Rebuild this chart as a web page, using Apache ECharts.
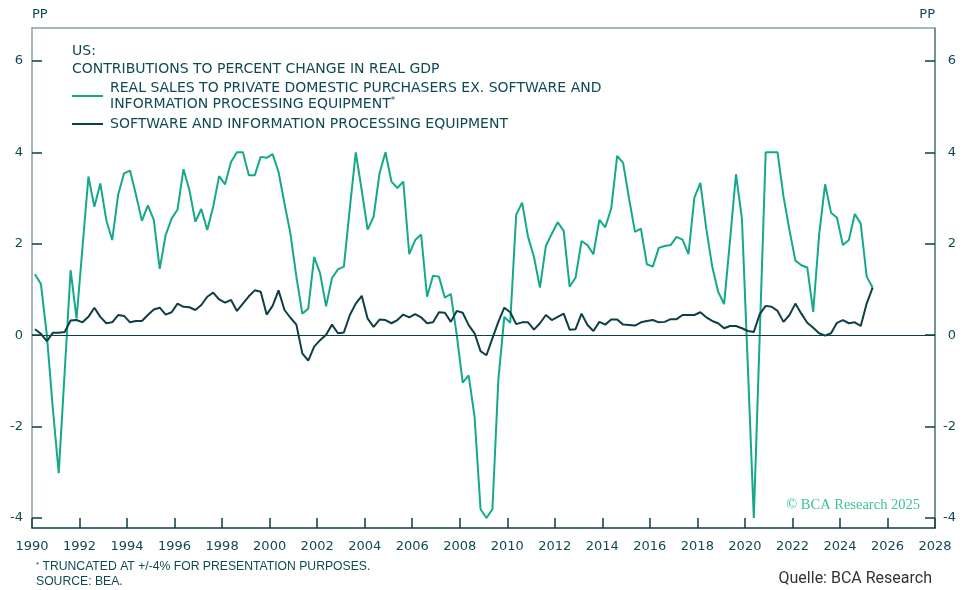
<!DOCTYPE html>
<html>
<head>
<meta charset="utf-8">
<script src="https://cdn.jsdelivr.net/npm/echarts@6/dist/echarts.min.js"></script>
<style>
  html, body { margin: 0; padding: 0; background: #fff; }
  #chart { width: 968px; height: 590px; }
</style>
</head>
<body>
<div id="chart"></div>
<script>
// quarterly contributions, 1990Q1 .. 2025Q2 (pp)
const startYear = 1990
const salesName = 'REAL SALES TO PRIVATE DOMESTIC PURCHASERS EX. SOFTWARE AND\nINFORMATION PROCESSING EQUIPMENT*'
const softName = 'SOFTWARE AND INFORMATION PROCESSING EQUIPMENT'

const salesExSoftware = [
  1.33, 1.12, 0.0, -1.6, -3.02, -0.8, 1.42, 0.36, 1.92, 3.47, 2.81, 3.32,
  2.52, 2.08, 3.07, 3.54, 3.60, 3.07, 2.50, 2.84, 2.52, 1.45, 2.19, 2.55,
  2.75, 3.63, 3.17, 2.48, 2.76, 2.30, 2.81, 3.48, 3.30, 3.79, 4.0, 4.0,
  3.50, 3.50, 3.90, 3.88, 3.96, 3.57, 2.88, 2.22, 1.28, 0.47, 0.58, 1.71,
  1.35, 0.63, 1.25, 1.44, 1.50, 2.78, 4.0, 3.17, 2.31, 2.59, 3.54, 4.0,
  3.36, 3.22, 3.36, 1.77, 2.08, 2.20, 0.84, 1.30, 1.28, 0.82, 0.90, 0.0,
  -1.04, -0.88, -1.79, -3.81, -4.0, -3.81, -0.98, 0.40, 0.27, 2.63, 2.90, 2.15,
  1.71, 1.04, 1.95, 2.22, 2.47, 2.28, 1.06, 1.26, 2.06, 1.97, 1.77, 2.52,
  2.36, 2.77, 3.92, 3.77, 2.99, 2.26, 2.33, 1.55, 1.50, 1.91, 1.95, 1.97,
  2.15, 2.09, 1.77, 3.01, 3.33, 2.33, 1.50, 0.95, 0.68, 2.08, 3.52, 2.55,
  -0.7, -4.0, 0.0, 4.0, 4.0, 4.0, 3.03, 2.30, 1.63, 1.53, 1.48, 0.51,
  2.2, 3.30, 2.68, 2.57, 1.97, 2.08, 2.65, 2.44, 1.28, 1.04
]
const softwareEquip = [
  0.13, 0.03, -0.13, 0.05, 0.05, 0.07, 0.32, 0.33, 0.28, 0.40, 0.60, 0.40,
  0.26, 0.28, 0.44, 0.42, 0.28, 0.31, 0.31, 0.44, 0.56, 0.60, 0.45, 0.50,
  0.69, 0.62, 0.61, 0.55, 0.66, 0.84, 0.93, 0.78, 0.71, 0.77, 0.53, 0.69,
  0.85, 0.98, 0.95, 0.45, 0.64, 0.98, 0.55, 0.38, 0.23, -0.40, -0.56, -0.25,
  -0.11, 0.01, 0.23, 0.04, 0.06, 0.44, 0.69, 0.86, 0.36, 0.18, 0.34, 0.33,
  0.26, 0.33, 0.45, 0.39, 0.46, 0.39, 0.26, 0.28, 0.50, 0.49, 0.29, 0.53,
  0.49, 0.22, 0.04, -0.35, -0.44, -0.07, 0.29, 0.60, 0.50, 0.24, 0.28, 0.28,
  0.12, 0.26, 0.44, 0.33, 0.40, 0.47, 0.12, 0.13, 0.47, 0.22, 0.09, 0.29,
  0.23, 0.34, 0.34, 0.23, 0.22, 0.21, 0.28, 0.31, 0.33, 0.28, 0.29, 0.35,
  0.35, 0.44, 0.44, 0.44, 0.50, 0.39, 0.31, 0.26, 0.15, 0.20, 0.20, 0.15,
  0.09, 0.07, 0.46, 0.64, 0.62, 0.53, 0.29, 0.44, 0.69, 0.47, 0.27, 0.16,
  0.04, -0.01, 0.04, 0.27, 0.33, 0.26, 0.28, 0.20, 0.69, 1.04
]
const yTicks = [-4, -2, 0, 2, 4, 6]

const GREEN = '#14a98a'
const DARK = '#0d3f46'
const TXT = '#0f4a52'
const FONT = 'DejaVu Sans'

// each quarter sits at its mid point on the year axis
const toPoints = arr => arr.map((v, i) => [startYear + i / 4 + 0.125, v])

const chart = echarts.init(document.getElementById('chart'))

const yAxisBase = {
  type: 'value',
  min: -4.22,
  max: 6.72,
  splitLine: { show: false },
  axisTick: { show: true, inside: true, length: 10, customValues: yTicks, lineStyle: { color: DARK, width: 1.5 } },
  axisLabel: { customValues: yTicks, color: TXT, fontFamily: FONT, fontSize: 13 },
  name: 'PP',
  nameLocation: 'end',
  nameGap: 13,
  nameTextStyle: { color: TXT, fontFamily: FONT, fontSize: 13, verticalAlign: 'middle' }
}

chart.setOption({
  animation: false,
  grid: { left: 32, right: 33, top: 28, bottom: 62, containLabel: false },
  title: {
    text: 'US:\nCONTRIBUTIONS TO PERCENT CHANGE IN REAL GDP',
    left: 72,
    top: 42,
    padding: 0,
    textStyle: { color: TXT, fontFamily: FONT, fontSize: 14, fontWeight: 'normal', lineHeight: 18 }
  },
  legend: {
    orient: 'vertical',
    left: 72,
    top: 80,
    padding: 0,
    itemWidth: 31,
    itemHeight: 2,
    itemGap: 4,
    icon: 'rect',
    selectedMode: false,
    data: [salesName, softName],
    formatter: name => name.replace('*', '{sup|*}'),
    textStyle: {
      color: TXT, fontFamily: FONT, fontSize: 14, lineHeight: 16, padding: [0, 0, 0, 2],
      rich: { sup: { fontSize: 9, color: TXT, fontFamily: FONT, padding: [0, 0, 6, 0] } }
    }
  },
  xAxis: [
    {
      type: 'value',
      min: 1990,
      max: 2028,
      interval: 2,
      splitLine: { show: false },
      axisLine: { onZero: false, lineStyle: { color: DARK, width: 1.5 } },
      axisTick: { inside: true, length: 10, lineStyle: { color: DARK, width: 1.5 } },
      axisLabel: { color: TXT, fontFamily: FONT, fontSize: 13, margin: 12, formatter: v => String(v) }
    },
    {
      type: 'value',
      position: 'top',
      min: 1990,
      max: 2028,
      axisLine: { show: true, onZero: false, lineStyle: { color: '#86a3a8', width: 1.5 } },
      axisTick: { show: false },
      axisLabel: { show: false },
      splitLine: { show: false }
    }
  ],
  yAxis: [
    Object.assign({}, yAxisBase, {
      position: 'left',
      axisLine: { show: true, onZero: false, lineStyle: { color: '#86a3a8', width: 1.5 } },
      axisLabel: Object.assign({}, yAxisBase.axisLabel, { margin: 9 }),
      nameTextStyle: Object.assign({}, yAxisBase.nameTextStyle, { align: 'left' })
    }),
    Object.assign({}, yAxisBase, {
      position: 'right',
      axisLine: { show: true, onZero: false, lineStyle: { color: '#4b6f75', width: 1.5 } },
      axisLabel: Object.assign({}, yAxisBase.axisLabel, { margin: 21, align: 'right' }),
      nameTextStyle: Object.assign({}, yAxisBase.nameTextStyle, { align: 'right' })
    })
  ],
  series: [
    {
      name: salesName,
      type: 'line',
      data: toPoints(salesExSoftware),
      showSymbol: false,
      color: GREEN,
      lineStyle: { color: GREEN, width: 2 },
      z: 3
    },
    {
      name: softName,
      type: 'line',
      data: toPoints(softwareEquip),
      showSymbol: false,
      color: DARK,
      lineStyle: { color: DARK, width: 2 },
      z: 4,
      markLine: {
        silent: true,
        symbol: 'none',
        label: { show: false },
        lineStyle: { color: DARK, width: 1, type: 'solid' },
        data: [{ yAxis: 0 }]
      }
    }
  ],
  graphic: [
    {
      type: 'text', right: 48, top: 498,
      style: { text: '\u00a9 BCA Research 2025', fill: '#3cc29c', font: '14.5px "Liberation Serif"' }
    },
    {
      type: 'text', left: 36, top: 559,
      style: {
        text: '{s|*} TRUNCATED AT +/-4% FOR PRESENTATION PURPOSES.\nSOURCE: BEA.',
        fill: TXT, font: '12.2px "Liberation Sans"', lineHeight: 15,
        rich: { s: { fontSize: 8, fill: TXT, padding: [0, 0, 4, 0] } }
      }
    },
    {
      type: 'text', right: 36, top: 571,
      style: { text: 'Quelle: BCA Research', fill: '#333', font: '16px Roboto' }
    }
  ]
})
</script>
</body>
